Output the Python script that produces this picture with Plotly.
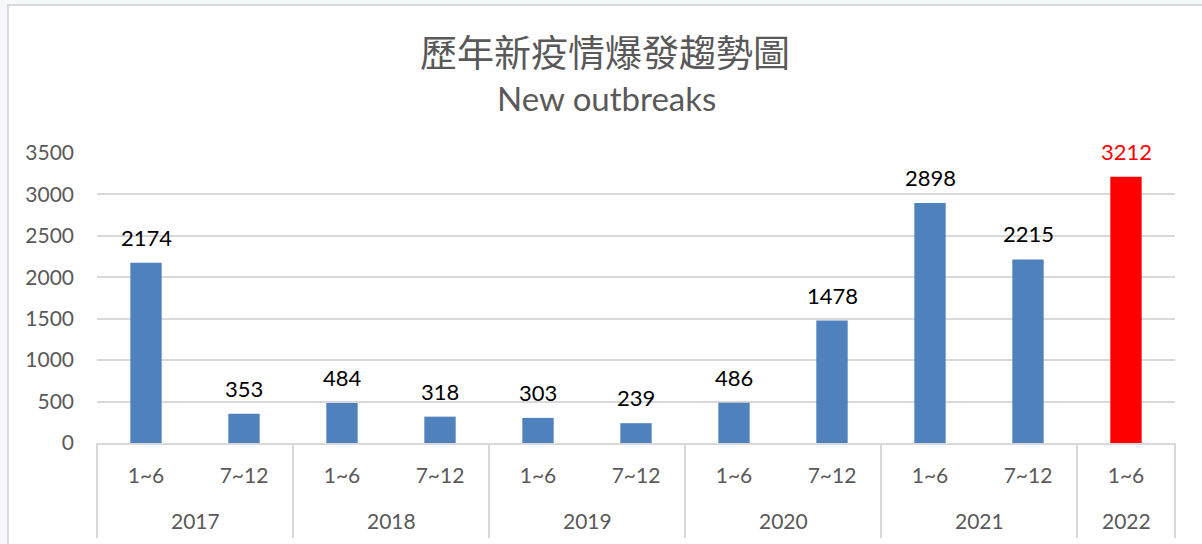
import plotly.graph_objects as go

years = ["2017", "2017", "2018", "2018", "2019", "2019", "2020", "2020", "2021", "2021", "2022"]
periods = ["1~6", "7~12", "1~6", "7~12", "1~6", "7~12", "1~6", "7~12", "1~6", "7~12", "1~6"]
outbreaks = [2174, 353, 484, 318, 303, 239, 486, 1478, 2898, 2215, 3212]
bar_colors = ["#4f81bd"] * 10 + ["#ff0000"]
label_colors = ["#000000"] * 10 + ["#ff0000"]
title_zh = "歷年新疫情爆發趨勢圖"
title_en = "New outbreaks"
y_ticks = [0, 500, 1000, 1500, 2000, 2500, 3000, 3500]

W, H = 1202, 544
L, R, T, B = 97, 27, 153, 101
pw, ph = W - L - R, H - T - B
FONT = "Lato, Open Sans, sans-serif"
GRAY = "#595959"
LINE = "#d9d9d9"

def px_x(x):
    return (x - L) / pw

def px_y(y):
    return (H - B - y) / ph

n = len(outbreaks)
idx = list(range(n))
xmin, xmax = -0.5, n - 0.5

fig = go.Figure()
fig.add_trace(go.Bar(
    x=idx, y=outbreaks,
    marker=dict(color=bar_colors, line=dict(width=0)),
    width=0.32,
    customdata=[[y, p] for y, p in zip(years, periods)],
    hovertemplate="%{customdata[0]} %{customdata[1]}: %{y}<extra></extra>",
))

# data labels
for i, (v, c) in enumerate(zip(outbreaks, label_colors)):
    fig.add_annotation(
        x=i, y=v, xref="x", yref="y", text=str(v), showarrow=False,
        yanchor="bottom", yshift=10,
        font=dict(family=FONT, size=22, color=c),
    )

# year groups: labels and dividers
groups = []
for i, yr in enumerate(years):
    if groups and groups[-1][0] == yr:
        groups[-1][2] = i
    else:
        groups.append([yr, i, i])

bounds = [xmin]
for yr, a, b in groups:
    fig.add_annotation(
        x=(a + b) / 2, y=px_y(520), xref="x", yref="paper", text=yr, showarrow=False,
        yanchor="middle", font=dict(family=FONT, size=21, color=GRAY),
    )
    bounds.append(b + 0.5)

for bx in bounds:
    xp = (bx - xmin) / (xmax - xmin)
    fig.add_shape(type="line", xref="paper", yref="paper",
                  x0=xp, x1=xp, y0=0, y1=px_y(538),
                  line=dict(color=LINE, width=2))

# titles
fig.add_annotation(
    x=px_x(605), y=px_y(51), xref="paper", yref="paper", text=title_zh, showarrow=False,
    yanchor="middle", xanchor="center",
    font=dict(family="Noto Sans CJK TC", size=37, color=GRAY),
)
fig.add_annotation(
    x=px_x(606), y=px_y(98), xref="paper", yref="paper", text=title_en, showarrow=False,
    yanchor="middle", xanchor="center",
    font=dict(family=FONT, size=33, color=GRAY),
)

# chart frame
fig.add_shape(
    type="rect", xref="paper", yref="paper",
    x0=px_x(8), x1=px_x(1215), y0=px_y(560), y1=px_y(5),
    fillcolor="white", line=dict(color=LINE, width=2), layer="below",
)

fig.update_layout(
    width=W, height=H,
    margin=dict(l=L, r=R, t=T, b=B, autoexpand=False),
    paper_bgcolor="#f4f8fb",
    plot_bgcolor="white",
    showlegend=False,
    bargap=0.68,
    font=dict(family=FONT, size=21, color=GRAY),
    xaxis=dict(
        range=[xmin, xmax], tickvals=idx, ticktext=periods,
        showline=True, linecolor=LINE, linewidth=2,
        ticks="", showgrid=False, zeroline=False,
        tickfont=dict(family=FONT, size=21, color=GRAY),
        ticklabelstandoff=13,
    ),
    yaxis=dict(
        range=[0, 3500], tickvals=y_ticks,
        showgrid=True, gridcolor=LINE, gridwidth=2,
        zeroline=False, showline=False, ticks="",
        tickfont=dict(family=FONT, size=21, color=GRAY),
        ticklabelstandoff=22,
    ),
)

fig.write_html(
    "out.html",
    config={"displayModeBar": False},
    post_script="document.body.style.margin='0';document.body.style.background='#f4f8fb';",
)
